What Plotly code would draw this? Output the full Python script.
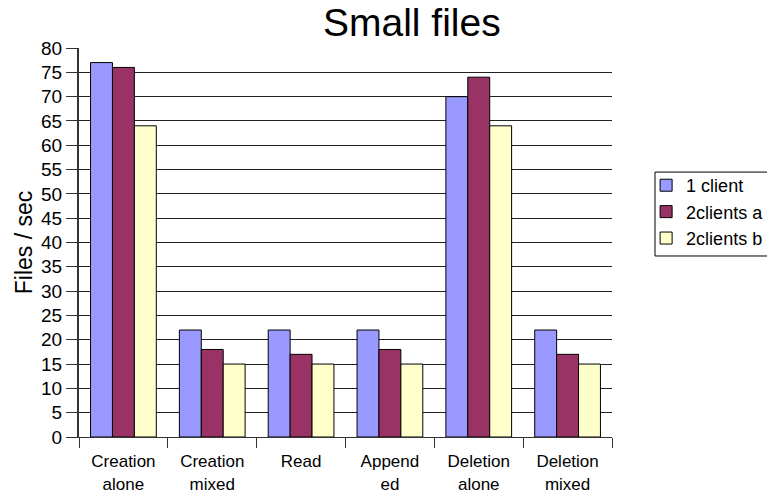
import plotly.graph_objects as go

categories = ["Creation<br>alone", "Creation<br>mixed", "Read", "Append<br>ed", "Deletion<br>alone", "Deletion<br>mixed"]
series_names = ["1 client", "2clients a", "2clients b"]
one_client = [77, 22, 22, 22, 70, 22]
two_clients_a = [76, 18, 17, 18, 74, 17]
two_clients_b = [64, 15, 15, 15, 64, 15]
colors = ["#9999FF", "#993366", "#FFFFCC"]

fig = go.Figure()
for name, vals, col in zip(series_names, [one_client, two_clients_a, two_clients_b], colors):
    fig.add_trace(go.Bar(x=categories, y=vals, name=name,
                         marker=dict(color=col, line=dict(color="black", width=1))))

fig.update_layout(
    width=767, height=497,
    margin=dict(l=79, r=155, t=48, b=60, autoexpand=False),
    paper_bgcolor="white", plot_bgcolor="white",
    barmode="group", bargap=0.26, bargroupgap=0,
    font=dict(family="Liberation Sans, Arial", color="black", size=18),
    title=dict(text="Small files", x=0.537, xanchor="center", y=0.955, yanchor="middle",
               yref="container", font=dict(size=39, color="black")),
    legend=dict(x=1.064, y=0.694, xanchor="left", yanchor="top",
                borderwidth=0, font=dict(size=18),
                tracegroupgap=3, itemwidth=30, bgcolor="rgba(0,0,0,0)"),
    showlegend=True,
    shapes=[dict(type="rect", xref="paper", yref="paper",
                 x0=1.0807, x1=1.40, y0=0.4653, y1=0.681,
                 line=dict(color="black", width=1), fillcolor="rgba(0,0,0,0)", layer="below")],
)
fig.update_xaxes(showline=True, linecolor="#333", linewidth=1,
                 ticks="outside", tickson="boundaries", ticklen=10, tickcolor="#333",
                 tickfont=dict(size=17), showgrid=False, ticklabelstandoff=9)
fig.update_yaxes(range=[0, 80], dtick=5, showline=True, linecolor="#333", linewidth=2,
                 ticks="outside", ticklen=11, tickcolor="#333",
                 gridcolor="#222", gridwidth=1, zeroline=False,
                 tickfont=dict(size=19),
                 title=dict(text="Files / sec", font=dict(size=23), standoff=2))

fig.write_html("out.html", post_script="document.body.style.margin='0';",
               config={"displayModeBar": False})
